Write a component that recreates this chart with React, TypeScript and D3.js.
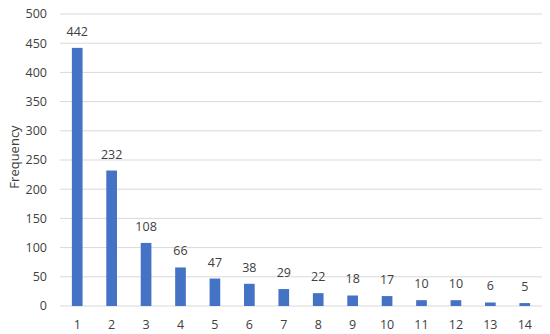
import React from "react";
import * as d3 from "d3";

const categories = ["1","2","3","4","5","6","7","8","9","10","11","12","13","14"];
const frequencies = [442, 232, 108, 66, 47, 38, 29, 22, 18, 17, 10, 10, 6, 5];
const yTicks = [0, 50, 100, 150, 200, 250, 300, 350, 400, 450, 500];

export default function App() {
  const W = 550, H = 334;
  const left = 60, right = 542, top = 14, bottom = 306;
  const x = d3.scaleBand().domain(categories).range([left, right]).paddingInner(0.69).paddingOuter(0.345);
  const y = d3.scaleLinear().domain([0, 500]).range([bottom, top]);
  const font = "'Open Sans', sans-serif";
  const fs = 12.5;
  return (
    <svg width={W} height={H} style={{ position: "absolute", left: 0, top: 0 }}>
      <rect width={W} height={H} fill="#fff" />
      {yTicks.map((t) => (
        <g key={t}>
          <line x1={left} x2={right} y1={y(t)} y2={y(t)} stroke="#d9d9d9" strokeWidth={1} />
          <text x={47} y={y(t)} dy="0.35em" textAnchor="end" fontSize={fs} fontFamily={font} fill="#404040">{t}</text>
        </g>
      ))}
      {categories.map((c, i) => (
        <g key={c}>
          <rect x={x(c)} y={y(frequencies[i])} width={x.bandwidth()} height={bottom - y(frequencies[i])} fill="#4472C4" />
          <text x={(x(c) as number) + x.bandwidth() / 2} y={y(frequencies[i]) - 12} textAnchor="middle" fontSize={fs} fontFamily={font} fill="#404040">{frequencies[i]}</text>
          <text x={(x(c) as number) + x.bandwidth() / 2} y={325} dy="0.35em" textAnchor="middle" fontSize={fs} fontFamily={font} fill="#404040">{c}</text>
        </g>
      ))}
      <text transform={`translate(14,157) rotate(-90)`} textAnchor="middle" dy="0.35em" fontSize={13} fontFamily={font} fill="#404040">Frequency</text>
    </svg>
  );
}
